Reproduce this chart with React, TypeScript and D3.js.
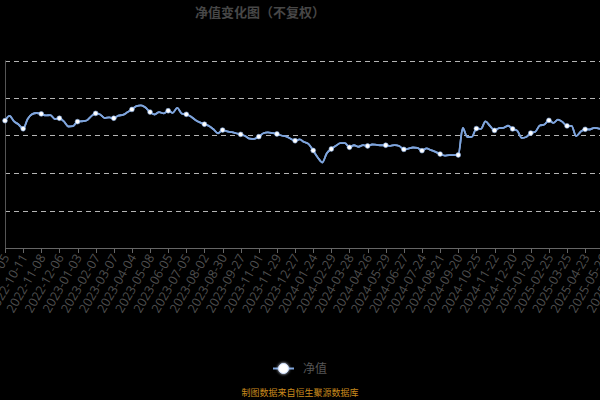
import React from "react";
import * as d3 from "d3";

const title = "净值变化图（不复权）";
const seriesName = "净值";
const footer = "制图数据来自恒生聚源数据库";

// one label every 20 trading days
const tickLabels = [
  "2022-09-05", "2022-10-11", "2022-11-08", "2022-12-06", "2023-01-03", "2023-02-07",
  "2023-03-07", "2023-04-04", "2023-05-08", "2023-06-05", "2023-07-05", "2023-08-02",
  "2023-08-30", "2023-09-27", "2023-11-01", "2023-11-29", "2023-12-27", "2024-01-24",
  "2024-02-29", "2024-03-28", "2024-04-26", "2024-05-29", "2024-06-27", "2024-07-24",
  "2024-08-21", "2024-09-20", "2024-10-25", "2024-11-22", "2024-12-20", "2025-01-20",
  "2025-02-25", "2025-03-25", "2025-04-23", "2025-05-26", "2025-06-24",
];

// net value sampled every 5 trading days (4 samples per label interval)
const navValues = [
  1.079, 1.105, 1.075, 1.059, 1.036, 1.088, 1.114, 1.120,
  1.115, 1.107, 1.109, 1.088, 1.092, 1.075, 1.048, 1.050,
  1.074, 1.076, 1.080, 1.102, 1.118, 1.112, 1.093, 1.097,
  1.092, 1.106, 1.110, 1.124, 1.139, 1.157, 1.161, 1.149,
  1.125, 1.112, 1.125, 1.118, 1.132, 1.121, 1.147, 1.117,
  1.113, 1.101, 1.083, 1.070, 1.060, 1.051, 1.033, 1.012,
  1.029, 1.022, 1.018, 1.012, 1.006, 0.997, 0.983, 0.982,
  0.994, 1.012, 1.017, 1.013, 1.008, 1.000, 0.995, 0.983,
  0.972, 0.979, 0.965, 0.954, 0.920, 0.883, 0.856, 0.905,
  0.928, 0.945, 0.959, 0.959, 0.937, 0.948, 0.940, 0.949,
  0.944, 0.952, 0.950, 0.948, 0.948, 0.945, 0.949, 0.944,
  0.926, 0.930, 0.936, 0.934, 0.919, 0.931, 0.922, 0.913,
  0.901, 0.893, 0.895, 0.895, 0.896, 1.040, 0.992, 0.993,
  1.037, 1.035, 1.075, 1.051, 1.027, 1.039, 1.041, 1.052,
  1.035, 1.026, 0.987, 0.992, 1.013, 1.020, 1.053, 1.059,
  1.081, 1.067, 1.085, 1.072, 1.051, 1.051, 0.997, 1.020,
  1.033, 1.032, 1.041, 1.037, 1.035, 1.035,
];
const samplesPerLabel = 4;
const yTicks = [0.4, 0.6, 0.8, 1.0, 1.2, 1.4];

const W = 600;
const H = 400;
const plotLeft = 5;
const labelStep = 18.13;
const plotTop = 60.5;
const plotBottom = 248;
const lineColor = "#7ea4dc";

export default function App() {
  const x = d3
    .scaleLinear()
    .domain([0, tickLabels.length - 1])
    .range([plotLeft, plotLeft + (tickLabels.length - 1) * labelStep]);
  const y = d3
    .scaleLinear()
    .domain([yTicks[0], yTicks[yTicks.length - 1]])
    .range([plotBottom, plotTop]);

  const pts = navValues.map((v, i) => ({ t: i / samplesPerLabel, v, i }));
  const line = d3
    .line<{ t: number; v: number }>()
    .x((d) => x(d.t))
    .y((d) => y(d.v))
    .curve(d3.curveMonotoneX);

  const markers = pts.filter((p) => p.i % samplesPerLabel === 0);
  const font = "'Open Sans', 'Noto Sans CJK SC', sans-serif";
  const cjk = "'Noto Sans CJK SC', 'Noto Sans', sans-serif";

  return (
    <svg
      width={W}
      height={H}
      style={{ position: "absolute", left: 0, top: 0, background: "#000" }}
    >
      <defs>
        <filter id="glow" x="-50%" y="-50%" width="200%" height="200%">
          <feGaussianBlur stdDeviation="0.7" result="b" />
          <feMerge>
            <feMergeNode in="b" />
            <feMergeNode in="SourceGraphic" />
          </feMerge>
        </filter>
        <filter id="glow2" x="-100%" y="-100%" width="300%" height="300%">
          <feGaussianBlur stdDeviation="1.5" result="b" />
          <feMerge>
            <feMergeNode in="b" />
            <feMergeNode in="SourceGraphic" />
          </feMerge>
        </filter>
      </defs>
      <rect x={0} y={0} width={W} height={H} fill="#000" />

      <text
        x={195}
        y={17}
        fill="#474747"
        fontSize={13}
        fontWeight="bold"
        fontFamily={cjk}
      >
        {title}
      </text>

      {/* grid */}
      {yTicks.slice(1).map((t) => (
        <line
          key={t}
          x1={plotLeft}
          x2={W}
          y1={Math.round(y(t)) + 0.5}
          y2={Math.round(y(t)) + 0.5}
          stroke="#b5b5b5"
          strokeDasharray="5,4"
          strokeWidth={1}
        />
      ))}

      {/* y axis line */}
      <line
        x1={plotLeft + 0.5}
        x2={plotLeft + 0.5}
        y1={plotTop}
        y2={plotBottom}
        stroke="#555"
      />
      {/* x axis */}
      <line x1={plotLeft} x2={W} y1={plotBottom + 0.5} y2={plotBottom + 0.5} stroke="#666" />
      {tickLabels.map((lab, i) => {
        const tx = x(i);
        return (
          <g key={lab}>
            <line
              x1={Math.round(tx) + 0.5}
              x2={Math.round(tx) + 0.5}
              y1={plotBottom}
              y2={plotBottom + 5}
              stroke="#666"
            />
            <text
              transform={`translate(${tx + 1},${plotBottom + 7}) rotate(-60)`}
              textAnchor="end"
              dominantBaseline="central"
              fill="#4f4f4f"
              fontSize={12.5}
              fontFamily={font}
            >
              {lab}
            </text>
          </g>
        );
      })}

      {/* series */}
      <path
        d={line(pts) || ""}
        fill="none"
        stroke={lineColor}
        strokeWidth={1.8}
        strokeLinejoin="round"
        filter="url(#glow)"
      />
      {markers.map((p) => (
        <circle
          key={p.i}
          cx={x(p.t)}
          cy={y(p.v)}
          r={2.4}
          fill="#fff"
          stroke={lineColor}
          strokeWidth={0.6}
        />
      ))}

      {/* legend */}
      <line x1={273} x2={294} y1={368.5} y2={368.5} stroke={lineColor} strokeWidth={2} />
      <circle cx={283.5} cy={368.5} r={5} fill="#fff" stroke="#cfe0ff" strokeWidth={1} filter="url(#glow2)" />
      <text x={303} y={373} fill="#555" fontSize={12} fontFamily={cjk}>
        {seriesName}
      </text>

      <text
        x={300}
        y={396}
        textAnchor="middle"
        fill="#c98a1d"
        fontSize={9}
        fontFamily={cjk}
      >
        {footer}
      </text>
    </svg>
  );
}
